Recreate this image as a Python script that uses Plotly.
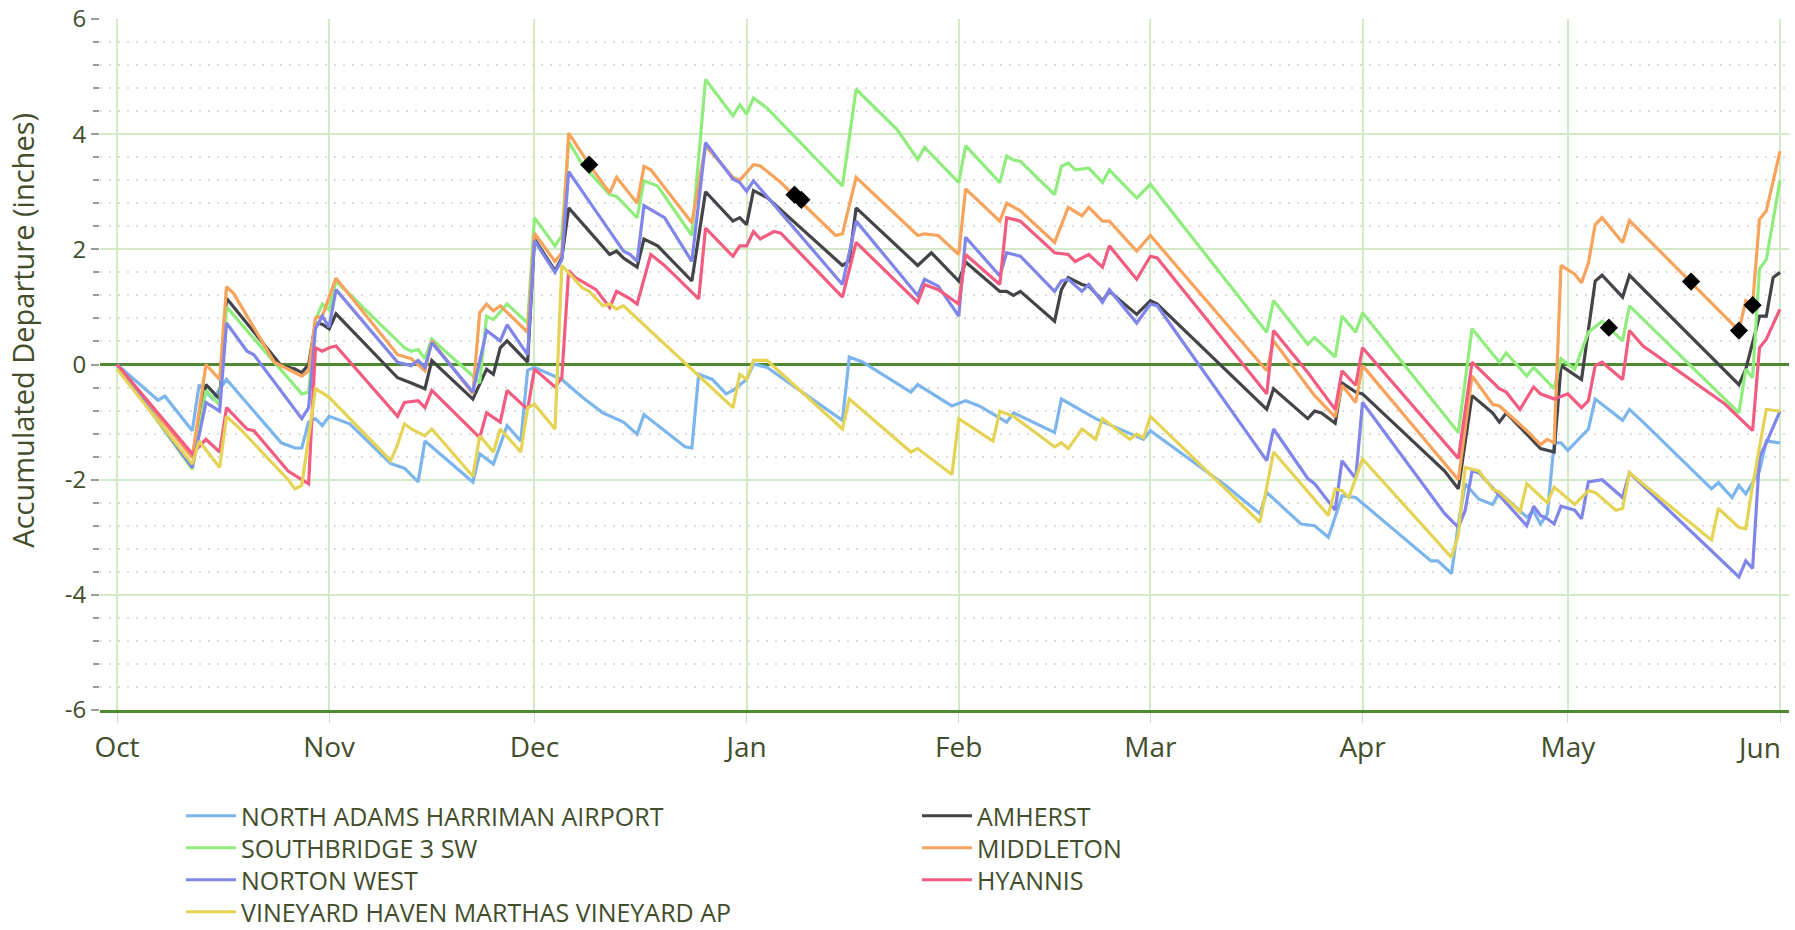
import pandas as pd
import plotly.graph_objects as go

START = pd.Timestamp("2022-10-01")

# ---- data: day offset from Oct 1 and accumulated departure (inches) ----
north_adams_day = [0,6,7,11,12,14,16,24,26,27,28,29,30,31,34,40,42,44,45,52,53,55,57,59,60,61,65,68,71,74,76,77,83,84,85,87,89,90,92,93,95,106,107,109,116,117,122,124,126,130,131,137,138,143,150,151,162,167,168,173,175,177,178,179,181,192,193,195,196,197,199,201,202,206,207,208,209,210,211,212,215,216,220,221,223,233,234,236,237,238,240,241,243]
north_adams_val = [0,-0.62,-0.55,-1.15,-0.35,-0.6,-0.26,-1.36,-1.45,-1.45,-1.0,-0.94,-1.06,-0.9,-1.03,-1.72,-1.8,-2.04,-1.33,-2.04,-1.55,-1.73,-1.06,-1.33,-0.1,-0.05,-0.26,-0.57,-0.84,-1.0,-1.21,-0.87,-1.43,-1.45,-0.17,-0.26,-0.51,-0.45,-0.26,0.01,-0.05,-0.97,0.13,0.04,-0.48,-0.35,-0.72,-0.63,-0.72,-1.0,-0.84,-1.18,-0.6,-0.94,-1.3,-1.15,-2.1,-2.59,-2.22,-2.77,-2.8,-3.0,-2.65,-2.28,-2.31,-3.41,-3.41,-3.63,-2.77,-2.07,-2.34,-2.43,-2.22,-2.65,-2.55,-2.77,-2.6,-1.36,-1.36,-1.49,-1.12,-0.6,-0.97,-0.78,-1.0,-2.16,-2.05,-2.31,-2.1,-2.25,-1.85,-1.33,-1.36]

amherst_day = [0,11,13,15,16,24,26,27,28,29,30,31,32,41,43,45,46,52,54,55,56,57,60,61,64,65,66,72,73,74,76,77,79,84,86,90,91,92,93,95,106,107,108,117,119,123,124,129,130,131,132,137,138,139,141,142,144,145,149,151,152,168,169,174,175,176,178,179,181,182,194,196,198,201,202,203,206,208,210,211,214,216,217,220,221,237,238,240,241,242,243]
amherst_val = [0,-1.6,-0.35,-0.6,1.15,-0.02,-0.08,-0.14,0.0,0.72,0.7,0.62,0.88,-0.23,-0.32,-0.42,0.07,-0.6,-0.08,-0.17,0.29,0.41,0.04,2.18,1.63,1.85,2.72,1.91,1.97,1.85,1.69,2.18,2.06,1.45,3.0,2.49,2.55,2.43,3.02,2.9,1.72,1.8,2.72,1.72,1.94,1.45,1.78,1.27,1.27,1.2,1.27,0.75,1.3,1.51,1.39,1.36,1.11,1.27,0.87,1.11,1.05,-0.78,-0.42,-0.94,-0.81,-0.84,-1.02,-0.32,-0.48,-0.51,-1.85,-2.16,-0.54,-0.84,-1.0,-0.84,-1.21,-1.46,-1.52,-0.02,-0.26,1.45,1.55,1.17,1.55,-0.35,-0.08,0.84,0.84,1.51,1.6]

southbridge_day = [0,11,13,15,16,27,28,29,30,31,32,42,43,44,45,46,52,53,54,55,57,60,61,64,65,66,68,72,73,76,77,79,84,86,90,91,92,93,95,106,108,114,117,118,123,124,129,130,131,132,137,138,139,140,142,144,145,149,151,168,169,174,175,178,179,181,182,196,198,202,203,206,207,210,211,213,215,217,220,221,237,238,239,240,241,243]
southbridge_val = [0,-1.82,-0.45,-0.7,1.0,-0.51,-0.48,0.78,1.05,0.95,1.45,0.29,0.23,0.26,0.1,0.44,-0.2,-0.32,0.84,0.78,1.05,0.72,2.55,2.06,2.24,3.87,3.47,2.95,2.92,2.55,3.19,3.1,2.24,4.95,4.32,4.51,4.35,4.63,4.45,3.1,4.78,4.08,3.56,3.77,3.16,3.8,3.16,3.62,3.55,3.53,2.95,3.44,3.5,3.38,3.41,3.16,3.38,2.89,3.13,0.56,1.11,0.35,0.47,0.13,0.84,0.56,0.9,-1.18,0.62,0.04,0.2,-0.2,-0.05,-0.42,0.1,-0.08,0.56,0.75,0.41,1.02,-0.84,-0.08,-0.23,1.66,1.82,3.2]

middleton_day = [0,11,13,15,16,17,23,27,28,29,30,32,41,43,45,46,52,53,54,55,56,60,61,64,65,66,69,72,73,76,77,78,84,86,90,91,93,94,97,105,106,108,117,118,120,123,124,129,130,132,137,139,141,142,144,145,149,151,168,169,175,178,179,181,182,196,198,201,202,206,208,209,210,211,213,214,215,216,217,220,221,237,238,239,240,241,243]
middleton_val = [0,-1.62,0.0,-0.26,1.35,1.24,0.04,-0.2,-0.11,0.81,0.84,1.5,0.17,0.1,-0.11,0.41,-0.51,0.9,1.05,0.93,1.02,0.56,2.28,1.79,1.94,4.02,3.47,2.98,3.25,2.8,3.44,3.38,2.46,3.8,3.25,3.2,3.47,3.45,3.16,2.24,2.27,3.25,2.24,2.27,2.24,1.91,3.05,2.49,2.8,2.67,2.12,2.73,2.58,2.73,2.49,2.49,1.97,2.24,-0.11,0.41,-0.54,-0.91,-0.36,-0.66,-0.02,-2.0,-0.2,-0.69,-0.72,-1.15,-1.39,-1.3,-1.36,1.72,1.57,1.42,1.76,2.43,2.55,2.12,2.5,0.59,1.11,1.05,2.52,2.67,3.7]

norton_day = [0,11,13,15,16,19,20,27,28,29,30,31,32,41,43,44,45,46,52,54,56,57,60,61,64,65,66,74,75,76,77,80,84,86,90,91,92,93,106,108,117,118,120,123,124,129,130,132,137,138,139,141,142,144,145,149,151,152,168,169,174,175,178,179,181,182,194,196,197,198,199,202,206,207,208,209,210,211,213,214,215,217,220,221,237,238,239,240,241,243]
norton_val = [0,-1.79,-0.66,-0.81,0.72,0.23,0.17,-0.94,-0.75,0.62,0.84,0.65,1.3,0.04,-0.02,0.07,-0.05,0.38,-0.48,0.59,0.41,0.69,0.17,2.15,1.6,1.82,3.35,1.97,1.91,1.79,2.76,2.55,1.79,3.85,3.22,3.16,3.01,3.19,1.39,2.49,1.2,1.48,1.36,0.84,2.21,1.54,1.94,1.88,1.27,1.45,1.48,1.27,1.39,1.08,1.3,0.72,1.05,1.02,-1.67,-1.12,-1.98,-2.07,-2.53,-1.67,-1.98,-0.66,-2.59,-2.83,-2.53,-1.85,-1.88,-2.28,-2.8,-2.46,-2.62,-2.68,-2.77,-2.46,-2.53,-2.68,-2.04,-2.0,-2.31,-1.88,-3.69,-3.41,-3.54,-1.61,-1.36,-0.81]

hyannis_day = [0,11,13,15,16,19,20,25,27,28,29,30,31,32,41,42,44,45,46,53,54,56,57,60,61,64,65,66,67,70,72,73,75,76,78,80,85,86,90,91,92,93,94,96,97,106,108,117,118,120,123,124,129,130,132,137,139,140,142,144,145,149,151,152,168,169,174,178,179,181,182,196,198,202,203,205,207,208,210,212,214,215,216,217,220,221,223,233,235,239,240,241,243]
hyannis_val = [0,-1.55,-1.3,-1.52,-0.75,-1.12,-1.15,-1.85,-2.0,-2.07,0.29,0.23,0.29,0.32,-0.9,-0.66,-0.63,-0.75,-0.45,-1.27,-0.84,-1.0,-0.45,-0.78,-0.08,-0.39,-0.23,1.63,1.51,1.3,0.99,1.27,1.14,1.05,1.91,1.72,1.14,2.37,1.88,2.06,2.06,2.31,2.18,2.31,2.28,1.17,2.12,1.08,1.39,1.3,1.05,1.91,1.39,2.55,2.49,1.94,1.91,1.79,1.91,1.69,2.06,1.48,1.88,1.85,-0.51,0.59,-0.14,-0.78,-0.11,-0.36,0.29,-1.63,0.04,-0.42,-0.48,-0.78,-0.39,-0.51,-0.6,-0.51,-0.75,-0.63,-0.02,0.04,-0.26,0.59,0.32,-0.51,-0.69,-1.15,0.29,0.44,0.96]

vineyard_day = [0,11,12,15,16,18,25,26,27,29,31,40,41,42,43,45,46,52,53,55,56,59,60,61,64,65,68,69,71,72,73,74,90,91,92,93,95,106,107,116,117,122,123,128,129,131,137,138,139,141,143,144,148,149,150,151,167,169,177,178,179,180,182,195,196,197,199,201,202,205,206,209,210,213,215,216,219,220,221,233,234,237,238,239,241,243]
vineyard_val = [-0.08,-1.73,-1.33,-1.79,-0.9,-1.12,-2.0,-2.16,-2.1,-0.42,-0.57,-1.67,-1.39,-1.03,-1.12,-1.24,-1.12,-1.94,-1.24,-1.52,-1.12,-1.52,-0.75,-0.69,-1.12,1.72,1.33,1.27,1.02,1.05,0.96,1.02,-0.75,-0.17,-0.26,0.07,0.07,-1.12,-0.6,-1.52,-1.46,-1.91,-0.94,-1.33,-0.81,-0.9,-1.43,-1.36,-1.46,-1.12,-1.3,-0.94,-1.3,-1.21,-1.27,-0.9,-2.74,-1.52,-2.62,-2.16,-2.19,-2.31,-1.64,-3.35,-2.95,-1.79,-1.85,-2.16,-2.22,-2.56,-2.07,-2.4,-2.13,-2.43,-2.19,-2.22,-2.53,-2.5,-1.88,-3.05,-2.5,-2.83,-2.85,-2.1,-0.78,-0.81]

marker_day = [69, 99, 100, 218, 230, 237, 239]
marker_val = [3.47, 2.95, 2.86, 0.64, 1.44, 0.59, 1.03]

month_ticks = ["2022-10-01", "2022-11-01", "2022-12-01", "2023-01-01", "2023-02-01",
               "2023-03-01", "2023-04-01", "2023-05-01", "2023-06-01"]
month_labels = ["Oct", "Nov", "Dec", "Jan", "Feb", "Mar", "Apr", "May", "Jun"]
y_ticks = [-6, -4, -2, 0, 2, 4, 6]
y_labels = ["-6", "-4", "-2", "0", "2", "4", "6"]

series = [
    ("NORTH ADAMS HARRIMAN AIRPORT", north_adams_day, north_adams_val, "#7cb5ec"),
    ("AMHERST", amherst_day, amherst_val, "#434348"),
    ("SOUTHBRIDGE 3 SW", southbridge_day, southbridge_val, "#90ed7d"),
    ("MIDDLETON", middleton_day, middleton_val, "#f7a35c"),
    ("NORTON WEST", norton_day, norton_val, "#8085e9"),
    ("HYANNIS", hyannis_day, hyannis_val, "#f15c80"),
    ("VINEYARD HAVEN MARTHAS VINEYARD AP", vineyard_day, vineyard_val, "#e4d354"),
]

# legend entry positions (px in the 1795x930 page): two columns, four rows
legend_px = [(181, 816), (917, 816), (181, 848), (917, 848), (181, 880), (917, 880), (181, 912)]

W, H = 1795, 930
TEXT = "#434d2c"
FONT = "Open Sans"


def to_dates(days):
    return [START + pd.Timedelta(days=d) for d in days]


fig = go.Figure()
legend_layout = {}
for i, (name, d, v, c) in enumerate(series):
    assert len(d) == len(v), name
    lid = "legend" if i == 0 else f"legend{i + 1}"
    fig.add_trace(go.Scatter(x=to_dates(d), y=v, name=name, mode="lines",
                             line=dict(color=c, width=3.2), legend=lid))
    px, py = legend_px[i]
    legend_layout[lid] = dict(
        orientation="h",
        xref="container", yref="container",
        x=px / W, y=1 - py / H, xanchor="left", yanchor="middle",
        font=dict(family=FONT, size=25, color=TEXT),
        itemwidth=50, bgcolor="rgba(0,0,0,0)", borderwidth=0,
    )

fig.add_trace(go.Scatter(x=to_dates(marker_day), y=marker_val, mode="markers",
                         marker=dict(symbol="diamond", size=14, color="#000000"),
                         showlegend=False, hoverinfo="skip"))

fig.update_layout(
    width=W, height=H,
    margin=dict(l=100, r=6, t=19, b=220),
    paper_bgcolor="white", plot_bgcolor="white",
    font=dict(family=FONT, color=TEXT, size=24),
    showlegend=True,
    **legend_layout,
)

# last month label is pulled left so that it stays inside the page, as in the original
x_ticktext = month_labels[:-1] + [""]
fig.add_annotation(x=month_ticks[-1], y=0, xref="x", yref="paper",
                   text=month_labels[-1], showarrow=False,
                   xanchor="right", yanchor="top", xshift=3, yshift=-16,
                   font=dict(family=FONT, size=28, color=TEXT))

# y-axis title placed as in the original (slightly above the axis centre)
fig.add_annotation(x=-0.0456, y=0.5504, xref="paper", yref="paper",
                   text="Accumulated Departure (inches)", showarrow=False,
                   textangle=-90, xanchor="center", yanchor="middle",
                   font=dict(family=FONT, size=29, color=TEXT))

fig.update_xaxes(
    type="date", automargin=False,
    range=["2022-09-28 12:23", "2023-06-02 07:34"],
    tickvals=month_ticks, ticktext=x_ticktext,
    showgrid=True, gridcolor="#d3eac9", gridwidth=2,
    ticks="outside", ticklen=10, tickcolor="#ccd6eb", tickwidth=1,
    showline=True, linecolor="#4d8a2f", linewidth=3,
    tickfont=dict(size=28, color=TEXT), zeroline=False,
    ticklabeloverflow="allow",
)

fig.update_yaxes(
    range=[-6, 6], tickvals=y_ticks, ticktext=y_labels, automargin=False,
    showgrid=True, gridcolor="#d3eac9", gridwidth=2,
    zeroline=True, zerolinecolor="#4d8a2f", zerolinewidth=3,
    ticks="outside", ticklen=8, tickcolor="#9a9a9a", tickwidth=2,
    tickfont=dict(size=24, color=TEXT),
    ticklabeloverflow="allow",
    minor=dict(tickvals=[v / 10 for v in range(-56, 60, 4) if v % 20 != 0],
               ticks="outside", ticklen=6, tickcolor="#9a9a9a",
               showgrid=True, gridcolor="#dddddd", griddash="2px,7px", gridwidth=2),
    showline=False,
)

fig.write_html("out.html", config={"displayModeBar": False},
               post_script="document.body.style.margin='0';document.body.style.overflow='hidden';")
